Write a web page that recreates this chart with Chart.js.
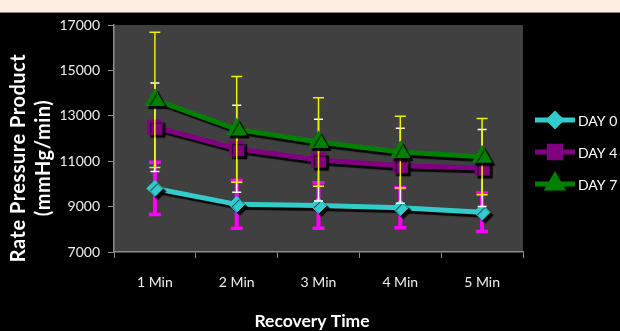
<!doctype html>
<html lang="en">
<head>
<meta charset="UTF-8" />
<meta name="viewport" content="width=device-width, initial-scale=1.0" />
<title>Rate Pressure Product - Recovery Time</title>
<script src="https://cdn.jsdelivr.net/npm/chart.js@4.4.0/dist/chart.umd.min.js"></script>
<style>
  html, body { margin: 0; padding: 0; background: #fdeee4; }
  .frame {
    position: absolute; left: 0; top: 12px;
    width: 620px; height: 319px;
    box-sizing: border-box;
    border-top: 1px solid #8c8580;
    background: #000;
  }
  .frame canvas { display: block; }
</style>
</head>
<body>
<div class="frame"><canvas id="rppChart"></canvas></div>
<script>
const categories = ['1 Min', '2 Min', '3 Min', '4 Min', '5 Min'];
const yTicks = [7000, 9000, 11000, 13000, 15000, 17000];

const day0 = [9800, 9100, 9050, 8950, 8750];
const day0Err = [1150, 1050, 1000, 880, 850];
const day4 = [12500, 11550, 11050, 10800, 10700];
const day4Err = [1950, 1920, 1800, 1650, 1700];
const day7 = [13700, 12400, 11850, 11400, 11200];
const day7Err = [2980, 2330, 1950, 1580, 1680];

const yTitle = ['Rate Pressure Product', '(mmHg/min)'];
const xTitle = 'Recovery Time';

const FONT = 'Lato, "Open Sans", sans-serif';

// black frame + grey plot area
const plotBg = {
  id: 'plotBg',
  beforeDraw(chart) {
    const { ctx, chartArea: a } = chart;
    ctx.save();
    ctx.fillStyle = '#000';
    ctx.fillRect(0, 0, chart.width, chart.height);
    ctx.fillStyle = '#404040';
    ctx.fillRect(a.left, a.top, a.right - a.left, a.bottom - a.top);
    ctx.restore();
  }
};

// +/- bars under each series, then a hard drop shadow for its line and markers
const errorBars = {
  id: 'errorBars',
  beforeDatasetDraw(chart, args) {
    const ctx = chart.ctx;
    const ds = chart.data.datasets[args.index];
    const eb = ds.errorBars;
    const y = chart.scales.y;
    ctx.save();
    ctx.strokeStyle = eb.color;
    args.meta.data.forEach((pt, i) => {
      const v = ds.data[i], e = eb.values[i];
      const top = y.getPixelForValue(v + e);
      const bot = y.getPixelForValue(v - e);
      ctx.lineWidth = eb.width;
      ctx.beginPath();
      ctx.moveTo(pt.x, top);
      ctx.lineTo(pt.x, bot);
      ctx.stroke();
      ctx.lineWidth = eb.capThick;
      ctx.beginPath();
      ctx.moveTo(pt.x - eb.cap / 2, top); ctx.lineTo(pt.x + eb.cap / 2, top);
      ctx.moveTo(pt.x - eb.cap / 2, bot); ctx.lineTo(pt.x + eb.cap / 2, bot);
      ctx.stroke();
    });
    ctx.restore();

    ctx.save();
    ctx.shadowColor = 'rgba(0,0,0,0.9)';
    ctx.shadowOffsetX = 3;
    ctx.shadowOffsetY = 3;
    ctx.shadowBlur = 1;
  },
  afterDatasetDraw(chart) {
    chart.ctx.restore();
  }
};

// axis titles and the line+marker legend on the right
const labels = {
  id: 'labels',
  afterDraw(chart) {
    const ctx = chart.ctx;
    ctx.save();
    ctx.fillStyle = '#ffffff';
    ctx.textAlign = 'center';
    ctx.textBaseline = 'middle';

    ctx.save();
    ctx.font = 'bold 20px ' + FONT;
    ctx.letterSpacing = '0.5px';
    ctx.translate(19, 145);
    ctx.rotate(-Math.PI / 2);
    yTitle.forEach((t, i) => ctx.fillText(t, 0, i * 24.5));
    ctx.restore();

    ctx.font = 'bold 17.5px ' + FONT;
    ctx.fillText(xTitle, 312, 308);

    const rows = [107, 139, 171];
    chart.data.datasets.forEach((ds, i) => {
      const y = rows[i];
      ctx.strokeStyle = ds.borderColor;
      ctx.lineWidth = 5;
      ctx.beginPath();
      ctx.moveTo(535, y);
      ctx.lineTo(575, y);
      ctx.stroke();
      ctx.fillStyle = ds.pointBackgroundColor;
      ctx.strokeStyle = ds.pointBorderColor;
      Chart.helpers.drawPoint(ctx, {
        pointStyle: ds.pointStyle,
        radius: ds.legendRadius,
        rotation: 0,
        borderWidth: 1
      }, 555, y);
      ctx.fillStyle = '#ffffff';
      ctx.font = '14px ' + FONT;
      ctx.textAlign = 'left';
      ctx.fillText(ds.label, 578, y + 1);
    });
    ctx.restore();
  }
};

function series(label, data, color, style, radius, legendRadius, order, errors) {
  return {
    label,
    data,
    order,
    borderColor: color,
    backgroundColor: color,
    borderWidth: 5,
    tension: 0,
    pointStyle: style,
    pointRadius: radius,
    pointBackgroundColor: color,
    pointBorderColor: color,
    pointBorderWidth: 1,
    legendRadius,
    errorBars: errors
  };
}

new Chart(document.getElementById('rppChart'), {
  type: 'line',
  data: {
    labels: categories,
    datasets: [
      series('DAY 0', day0, '#33cccc', 'rectRot', 8, 6, 3,
        { values: day0Err, color: '#ff00ff', width: 4, capThick: 3.5, cap: 12 }),
      series('DAY 4', day4, '#800080', 'rect', 10, 8, 2,
        { values: day4Err, color: '#ffffff', width: 1.5, capThick: 1.5, cap: 9 }),
      series('DAY 7', day7, '#008000', 'triangle', 11, 8, 1,
        { values: day7Err, color: '#f0f000', width: 1.5, capThick: 1.5, cap: 11 })
    ]
  },
  options: {
    responsive: true,
    maintainAspectRatio: false,
    animation: false,
    layout: { padding: { top: 9, right: 97, left: 0, bottom: 0 } },
    plugins: {
      legend: { display: false },
      tooltip: { enabled: false }
    },
    scales: {
      x: {
        offset: true,
        afterFit(scale) { scale.height = 79; },
        grid: { offset: true, drawOnChartArea: false, drawTicks: true, tickLength: 6, color: '#8c8c8c' },
        border: { color: '#8c8c8c', width: 1.5 },
        ticks: { color: '#eeeeee', font: { family: FONT, size: 14 }, padding: 16, maxRotation: 0 }
      },
      y: {
        min: yTicks[0],
        max: yTicks[yTicks.length - 1],
        afterFit(scale) {
          scale.width = 114;
          scale.paddingTop = 0;
          scale.paddingBottom = 0;
        },
        afterBuildTicks(scale) { scale.ticks = yTicks.map(v => ({ value: v })); },
        grid: { drawOnChartArea: false, drawTicks: true, tickLength: 6, color: '#8c8c8c' },
        border: { color: '#8c8c8c', width: 1.5 },
        ticks: {
          color: '#eeeeee',
          font: { family: FONT, size: 14 },
          padding: 8,
          callback: v => String(v)
        }
      }
    }
  },
  plugins: [plotBg, errorBars, labels]
});
</script>
</body>
</html>
